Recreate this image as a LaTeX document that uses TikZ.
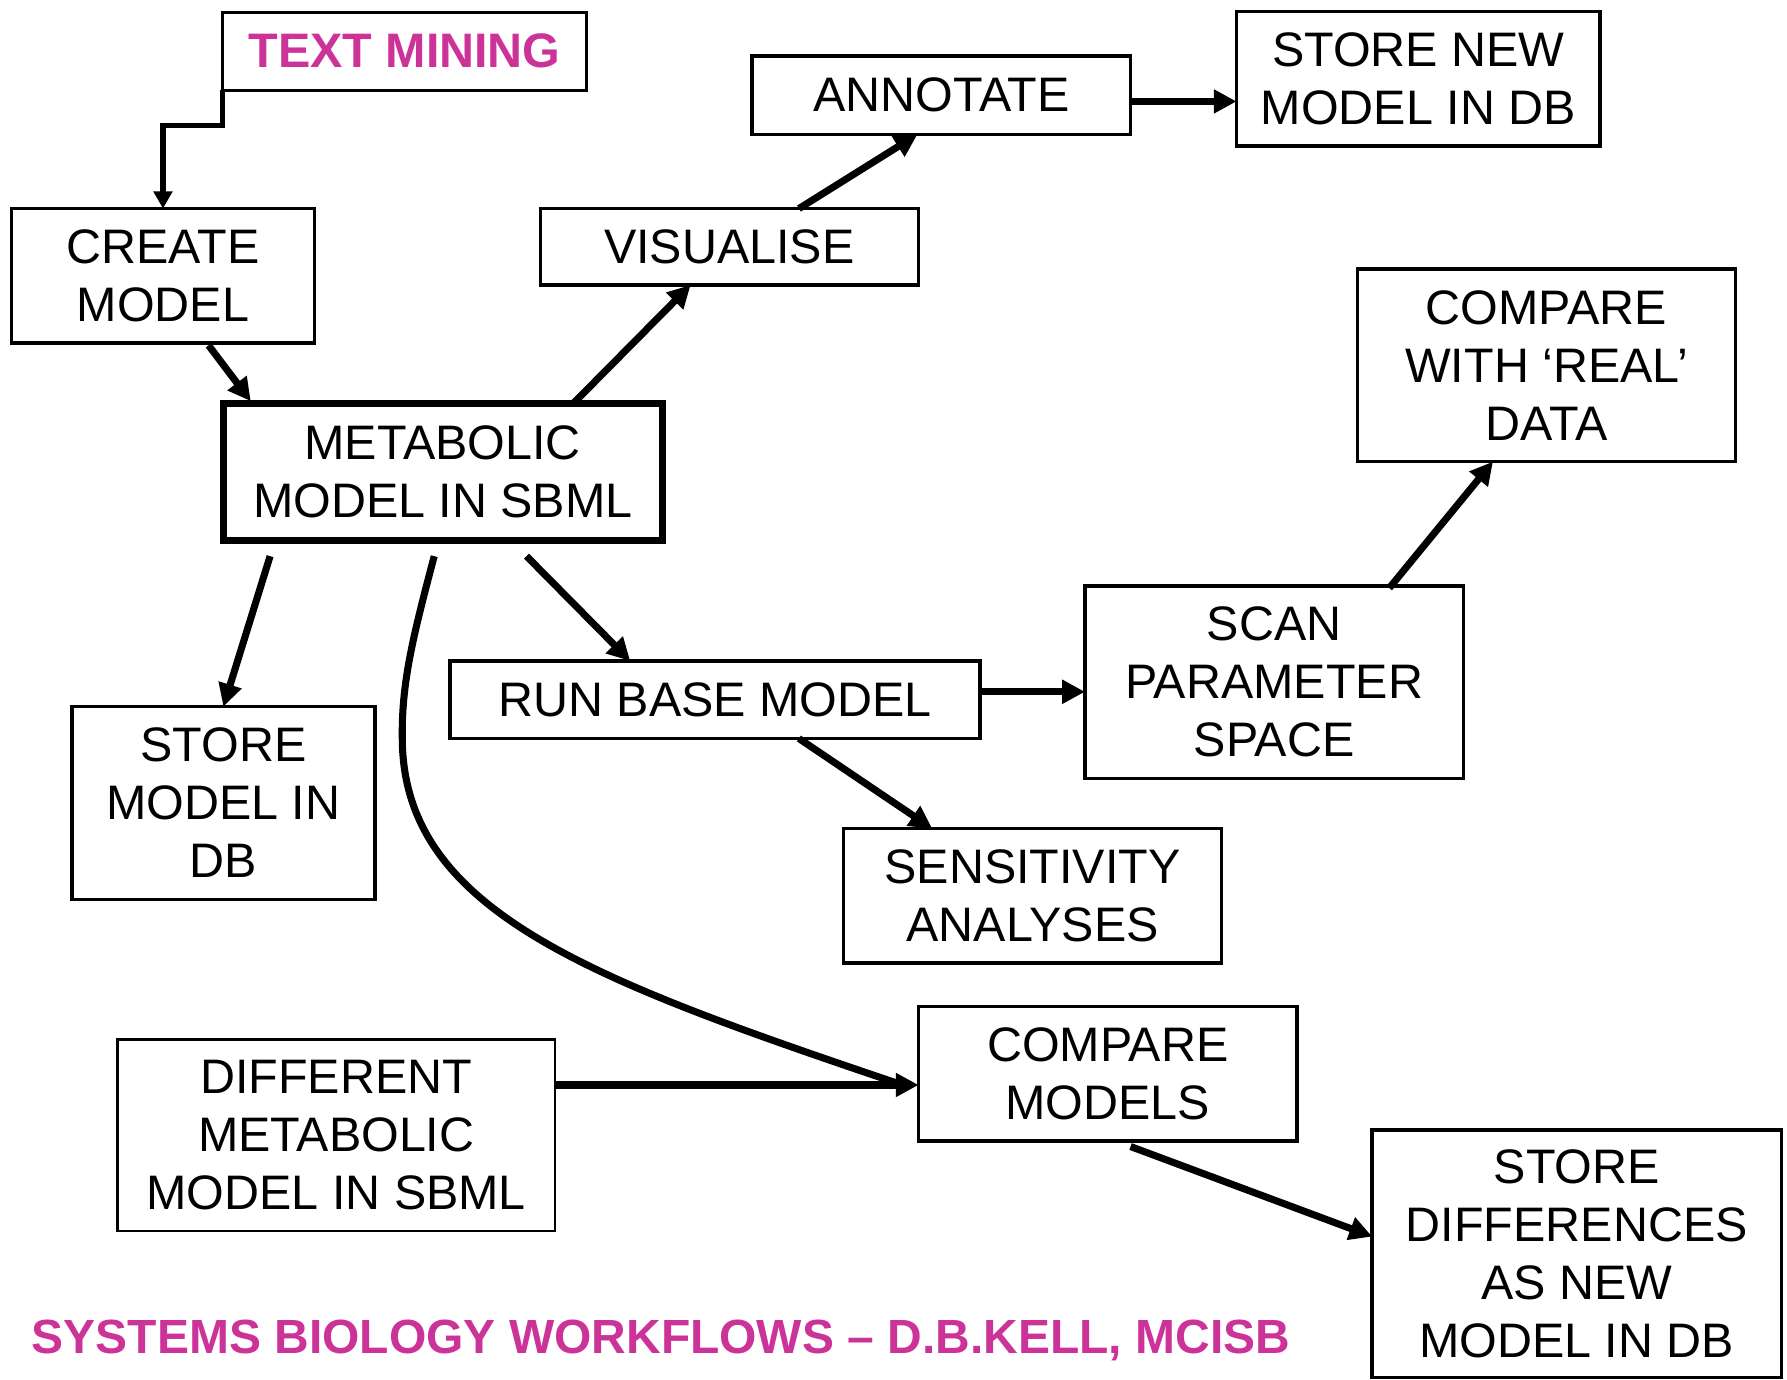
\documentclass[tikz,border=0pt]{standalone}
\usepackage{fontspec}
\setmainfont{Liberation Sans}
\usetikzlibrary{arrows.meta,calc}
\definecolor{kellpink}{RGB}{204,51,153}
\begin{document}
\begin{tikzpicture}[x=0.5pt,y=-0.5pt,
  every node/.style={font=\fontsize{21.25pt}{25.4pt}\selectfont, align=center, inner sep=0pt, outer sep=0pt},
  bx/.style 2 args={draw, line width=1.5pt, minimum width=#1, minimum height=#2},
  hilite/.style={text=kellpink, font=\fontsize{21.25pt}{25.4pt}\selectfont\bfseries},
  arr/.style={line width=3.1pt, -{Triangle[length=10pt,width=10pt]}},
  thinarr/.style={line width=2.3pt, -{Triangle[length=7.5pt,width=8pt]}},
  link/.style={line width=3.1pt}
]
\useasboundingbox (0,0) rectangle (1568,1210);

% workflow steps
\node[bx={160pt}{34pt}, line width=1.3pt, hilite] (tm) at (355,45) {TEXT MINING};
\node[bx={133pt}{59pt}] (create) at (143,242) {CREATE\\MODEL};
\node[bx={192.5pt}{60pt}, line width=3pt] (meta) at (388.5,414) {METABOLIC\\MODEL IN SBML};
\node[bx={166pt}{33.5pt}] (vis) at (640,216.5) {VISUALISE};
\node[bx={166pt}{34.5pt}] (annot) at (826,83.5) {ANNOTATE};
\node[bx={159.5pt}{59pt}] (storenew) at (1244.5,69) {STORE NEW\\MODEL IN DB};
\node[bx={166pt}{84.5pt}] (cmpreal) at (1357,320.5) {COMPARE\\WITH ‘REAL’\\DATA};
\node[bx={166pt}{84.5pt}] (scan) at (1118,598.5) {SCAN\\PARAMETER\\SPACE};
\node[bx={232.5pt}{34pt}] (run) at (627.5,614) {RUN BASE MODEL};
\node[bx={166pt}{59pt}] (sens) at (906,786) {SENSITIVITY\\ANALYSES};
\node[bx={133pt}{84.5pt}] (storedb) at (196,704.5) {STORE\\MODEL IN\\DB};
\node[bx={192pt}{84pt}, line width=1.1pt] (diff) at (295,996) {DIFFERENT\\METABOLIC\\MODEL IN SBML};
\node[bx={166pt}{59pt}] (cmpmod) at (972,942) {COMPARE\\MODELS};
\node[bx={179.5pt}{108.5pt}] (storediff) at (1383.5,1100) {STORE\\DIFFERENCES\\AS NEW\\MODEL IN DB};

% footer
\node[hilite, font=\fontsize{21.05pt}{25pt}\selectfont\bfseries, anchor=base west] (foot) at (28,1188) {SYSTEMS BIOLOGY WORKFLOWS – D.B.KELL, MCISB};

% connectors
\draw[thinarr] (tm.south west) -- ++(0,31) -| (create.north);
\draw[arr] ($(create.south west)+(173,2)$) -- ($(meta.north west)+(24,-2)$);
\draw[arr] ($(meta.north west)+(307,0)$) -- ($(vis.south west)+(132,0)$);
\draw[arr] ($(vis.north west)+(227,0)$) -- ($(annot.south west)+(145,0)$);
\coordinate (a1) at ($(annot.east)+(0,5.5)$);
\draw[arr] (a1) -- (a1 -| storenew.west);
\draw[arr] ($(meta.south west)+(41,14)$) -- (storedb.north);
\draw[arr] ($(meta.south west)+(266,14)$) -- ($(run.north west)+(158,0)$);
\draw[link] ($(meta.south west)+(185,14)$) .. controls (362,560) and (352,600) .. (353,650)
  .. controls (355,800) and (520,860) .. ($(cmpmod.west)+(-20,8)$);
\coordinate (r1) at ($(run.east)+(0,-7)$);
\draw[arr] (r1) -- (r1 -| scan.west);
\draw[arr] ($(run.south west)+(306,0)$) -- ($(sens.north west)+(78,0)$);
\draw[arr] ($(scan.north west)+(267,2)$) -- ($(cmpreal.south west)+(119,0)$);
\coordinate (d1) at ($(diff.east)+(0,-44)$);
\draw[arr] (d1) -- (d1 -| cmpmod.west);
\draw[arr] ($(cmpmod.south west)+(186,5)$) -- ($(storediff.west)+(0,-15)$);
\end{tikzpicture}
\end{document}
